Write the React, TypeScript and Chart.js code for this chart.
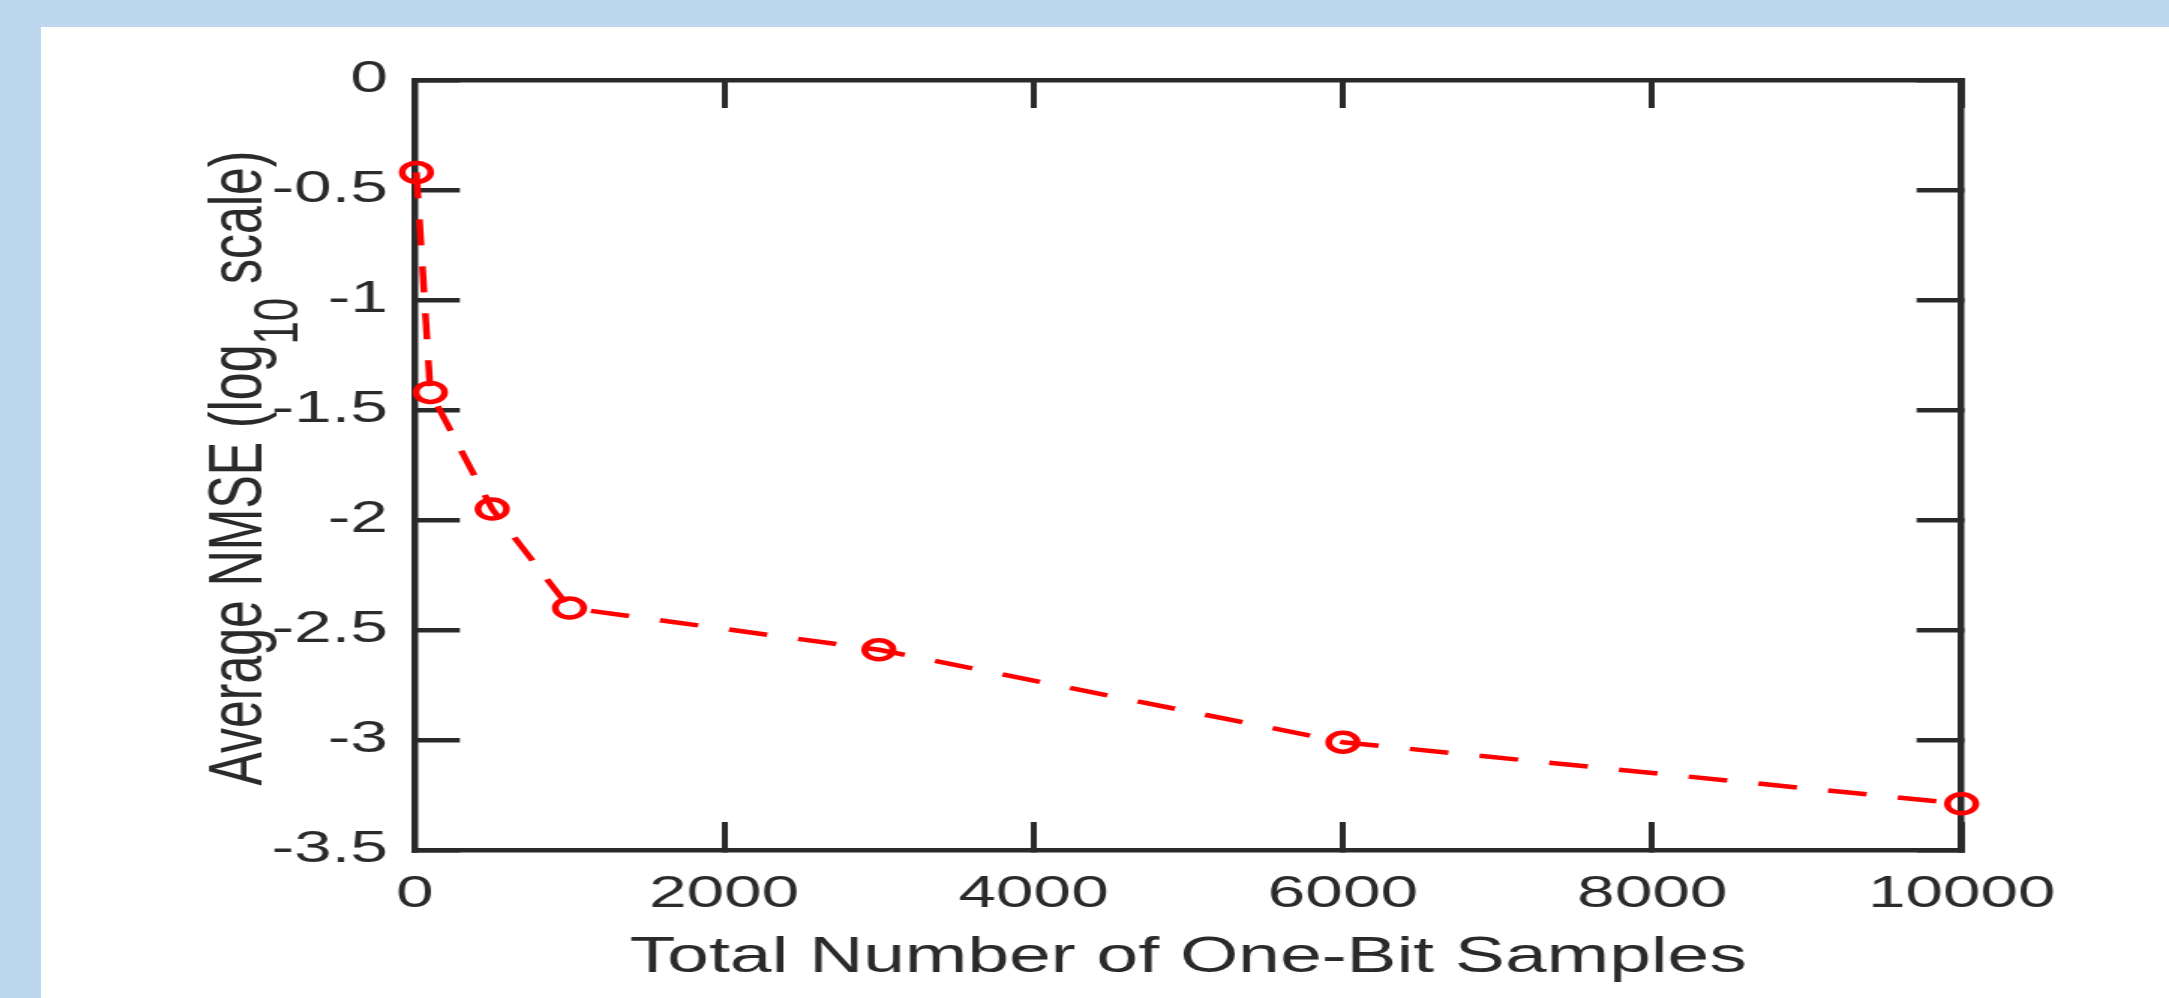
import React, { useEffect, useRef } from "react";
import { Chart, registerables } from "chart.js";

Chart.register(...registerables);

// ---- data ----
const samples = [10, 100, 500, 1000, 3000, 6000, 10000];
const nmseLog10 = [-0.42, -1.42, -1.95, -2.4, -2.59, -3.01, -3.29];

const xTicks = [0, 2000, 4000, 6000, 8000, 10000];
const xTickLabels = ["0", "2000", "4000", "6000", "8000", "10000"];
const yTicks = [0, -0.5, -1, -1.5, -2, -2.5, -3, -3.5];
const yTickLabels = ["0", "-0.5", "-1", "-1.5", "-2", "-2.5", "-3", "-3.5"];

const xAxisTitle = "Total Number of One-Bit Samples";
const yAxisTitleParts = ["Average NMSE (log", "10", " scale)"];

// ---- style ----
const FONT = "'Liberation Sans', Arial, Helvetica, sans-serif";
const INK = "#2a2a2a";
const RED = "#ff0000";
const CANVAS_W = 1419;
const CANVAS_H = 971;
const PANEL_W = 2128;

const yTitlePlugin = {
  id: "yTitleWithSubscript",
  afterDraw(chart: any) {
    const { ctx, chartArea } = chart;
    const mainFont = `50px ${FONT}`;
    const subFont = `42px ${FONT}`;
    ctx.save();
    ctx.font = mainFont;
    const w1 = ctx.measureText(yAxisTitleParts[0]).width;
    const w3 = ctx.measureText(yAxisTitleParts[2]).width;
    ctx.font = subFont;
    const w2 = ctx.measureText(yAxisTitleParts[1]).width;
    const total = w1 + w2 + w3;
    const cy = (chartArea.top + chartArea.bottom) / 2 + 3;
    ctx.translate(chartArea.left - 102, cy);
    ctx.rotate(-Math.PI / 2);
    ctx.fillStyle = INK;
    ctx.textAlign = "left";
    ctx.textBaseline = "alphabetic";
    let x = -total / 2;
    ctx.font = mainFont;
    ctx.fillText(yAxisTitleParts[0], x, 0);
    x += w1;
    ctx.font = subFont;
    ctx.fillText(yAxisTitleParts[1], x, 24);
    x += w2;
    ctx.font = mainFont;
    ctx.fillText(yAxisTitleParts[2], x, 0);
    ctx.restore();
  },
};

function fixSize(prop: "width" | "height", size: number) {
  return (s: any) => {
    s[prop] = size;
    s.paddingTop = 0;
    s.paddingBottom = 0;
    s.paddingLeft = 0;
    s.paddingRight = 0;
  };
}

export default function App() {
  const canvasRef = useRef<HTMLCanvasElement | null>(null);

  useEffect(() => {
    const canvas = canvasRef.current;
    if (!canvas) return;

    const gridX = {
      drawOnChartArea: false,
      drawTicks: true,
      tickLength: -28,
      tickWidth: 4,
      tickColor: INK,
      color: INK,
      lineWidth: 4,
    };
    const gridY = {
      drawOnChartArea: false,
      drawTicks: true,
      tickLength: -30,
      tickWidth: 4.5,
      tickColor: INK,
      color: INK,
      lineWidth: 4.5,
    };
    const border = { display: true, color: INK, width: 4.5 };

    const chart = new Chart(canvas, {
      type: "line",
      data: {
        datasets: [
          {
            data: samples.map((s, i) => ({ x: s, y: nmseLog10[i] })),
            borderColor: RED,
            borderWidth: 4.5,
            borderDash: [26, 21],
            pointStyle: "circle",
            pointRadius: 9.5,
            pointBorderWidth: 4.5,
            pointBorderColor: RED,
            pointBackgroundColor: "rgba(0,0,0,0)",
            tension: 0,
            fill: false,
            clip: false,
          } as any,
        ],
      },
      options: {
        animation: false,
        responsive: false,
        maintainAspectRatio: false,
        devicePixelRatio: 1,
        layout: {
          autoPadding: false,
          padding: { top: 53, right: 138.3, left: 0, bottom: 0 },
        },
        plugins: {
          legend: { display: false },
          tooltip: { enabled: false },
        },
        scales: {
          x: {
            type: "linear",
            position: "bottom",
            min: 0,
            max: 10000,
            afterBuildTicks: (s: any) => {
              s.ticks = xTicks.map((v) => ({ value: v }));
            },
            afterFit: fixSize("height", 148),
            grid: gridX,
            border,
            ticks: {
              autoSkip: false,
              maxRotation: 0,
              minRotation: 0,
              padding: 46,
              color: INK,
              font: { family: FONT, size: 45 },
              callback: (_v: any, i: number) => xTickLabels[i],
            },
            title: {
              display: true,
              text: xAxisTitle,
              color: INK,
              font: { family: FONT, size: 50 },
              padding: { top: 0, bottom: 10 },
            },
          },
          x2: {
            type: "linear",
            position: "top",
            min: 0,
            max: 10000,
            afterBuildTicks: (s: any) => {
              s.ticks = xTicks.map((v) => ({ value: v }));
            },
            afterFit: fixSize("height", 0),
            grid: gridX,
            border,
            ticks: { display: false },
          },
          y: {
            type: "linear",
            position: "left",
            min: -3.5,
            max: 0,
            afterBuildTicks: (s: any) => {
              s.ticks = yTicks.map((v) => ({ value: v }));
            },
            afterFit: fixSize("width", 249.3),
            grid: gridY,
            border,
            ticks: {
              autoSkip: false,
              padding: 48,
              color: INK,
              font: { family: FONT, size: 45 },
              callback: (_v: any, i: number) => yTickLabels[i],
            },
          },
          y2: {
            type: "linear",
            position: "right",
            min: -3.5,
            max: 0,
            afterBuildTicks: (s: any) => {
              s.ticks = yTicks.map((v) => ({ value: v }));
            },
            afterFit: fixSize("width", 0),
            grid: gridY,
            border,
            ticks: { display: false },
          },
        } as any,
      },
      plugins: [yTitlePlugin],
    });

    return () => {
      chart.destroy();
    };
  }, []);

  return (
    <div
      style={{
        position: "fixed",
        left: 0,
        top: 0,
        width: 2169,
        height: 998,
        background: "rgb(189,215,238)",
        overflow: "hidden",
      }}
    >
      <div
        style={{
          position: "absolute",
          left: 41,
          top: 27,
          width: PANEL_W,
          height: CANVAS_H,
          background: "#ffffff",
          overflow: "hidden",
        }}
      >
        <canvas
          ref={canvasRef}
          width={CANVAS_W}
          height={CANVAS_H}
          style={{ width: `${PANEL_W}px`, height: `${CANVAS_H}px`, display: "block" }}
        />
      </div>
    </div>
  );
}
